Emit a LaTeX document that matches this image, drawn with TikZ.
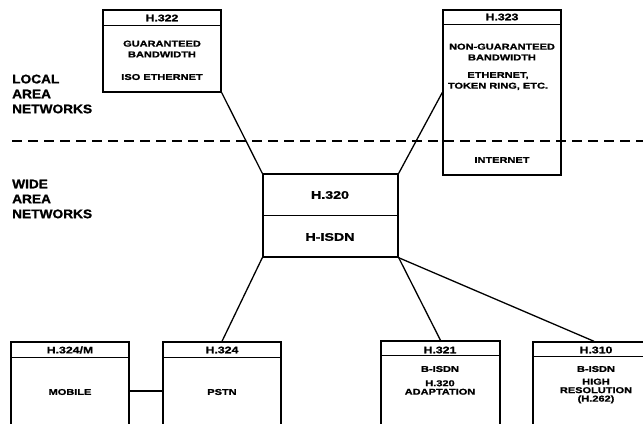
\documentclass[tikz,border=0pt]{standalone}
\usepackage{fontspec}
\newfontfamily\labfont{Liberation Sans}[FakeStretch=1.1, BoldFeatures={FakeBold=1.2}]
\newfontfamily\boxfont{Liberation Sans}[FakeStretch=1.3, BoldFeatures={FakeBold=1.3}]
\begin{document}
\begin{tikzpicture}[x=1bp, y=-1bp,
		box/.style={draw, line width=1.4bp, minimum width=118bp, inner sep=0pt},
		wire/.style={line width=1.3bp},
		txt/.style={font=\boxfont\bfseries\fontsize{8.5}{10.8}\selectfont, align=center, inner sep=0pt},
		tight/.style={font=\boxfont\bfseries\fontsize{8.5}{8.5}\selectfont, align=center, inner sep=0pt},
		hdr/.style={font=\boxfont\bfseries\fontsize{9.5}{9.5}\selectfont, inner sep=0pt},
		big/.style={font=\boxfont\bfseries\fontsize{11}{11}\selectfont, inner sep=0pt},
		side/.style={font=\labfont\bfseries\fontsize{12.5}{15}\selectfont, align=left, anchor=west, inner sep=0pt}]
			\useasboundingbox (0, 0) rectangle (643, 423);
			\clip (0, 0) rectangle (643, 423);
			
			\coordinate (lanl) at (12, 141);
			\coordinate (lanr) at (643, 141);
			\draw [wire, dash pattern=on 10bp off 6bp] (lanl) -- (lanr);
			
			\node[side] (lan) at (12, 94) {LOCAL\\AREA\\NETWORKS};
			\node[side] (wan) at (12, 199) {WIDE\\AREA\\NETWORKS};
			
			\node[box, minimum height=82bp] (h322) at (162, 51) {};
			\node[box, minimum height=165bp] (h323) at (502, 92.5) {};
			\node[box, minimum width=135bp, minimum height=83bp] (h320) at (330.5, 215.5) {};
			
			\node[box, minimum height=98bp] (h324m) at (70, 391) {};
			\node[box, minimum height=98bp] (h324) at (222, 391) {};
			\node[box, minimum width=119bp, minimum height=98bp] (h321) at (440.5, 390) {};
			\node[box, minimum width=122bp, minimum height=98bp] (h310) at (594, 391) {};
			
			\draw [wire] ([yshift=-16bp]h322.north west) -- ([yshift=-16bp]h322.north east);
			\draw [wire] ([yshift=-15bp]h323.north west) -- ([yshift=-15bp]h323.north east);
			\draw [wire] (h320.west) -- (h320.east);
			\draw [wire] ([yshift=-16bp]h324m.north west) -- ([yshift=-16bp]h324m.north east);
			\draw [wire] ([yshift=-16bp]h324.north west) -- ([yshift=-16bp]h324.north east);
			\draw [wire] ([yshift=-15bp]h321.north west) -- ([yshift=-15bp]h321.north east);
			\draw [wire] ([yshift=-15bp]h310.north west) -- ([yshift=-15bp]h310.north east);
			
			\draw [wire] (h322.south east) -- (h320.north west);
			\draw [wire] (h323.west) -- (h320.north east);
			\draw [wire] (h320.south west) -- (h324.north);
			\draw [wire] (h320.south east) -- (h321.north);
			\draw [wire] (h320.south east) -- (h310.north);
			\draw [wire] (h324m.east) -- (h324.west);
			
			\node[hdr] (t322) at (162, 18) {H.322};
			\node[txt] (g322) at (162, 49) {GUARANTEED\\BANDWIDTH};
			\node[txt] (e322) at (162, 77) {ISO ETHERNET};
			
			\node[hdr] (t323) at (502, 17) {H.323};
			\node[txt] (g323) at (502, 52) {NON-GUARANTEED\\BANDWIDTH};
			\node[txt] (e323) at (498, 81) {ETHERNET,\\TOKEN RING, ETC.};
			\node[txt] (i323) at (502, 160) {INTERNET};
			
			\node[big] (t320) at (330, 195) {H.320};
			\node[big] (i320) at (330, 237) {H-ISDN};
			
			\node[hdr] (t324m) at (70, 350) {H.324/M};
			\node[txt] (m324m) at (70, 392) {MOBILE};
			\node[hdr] (t324) at (222, 350) {H.324};
			\node[txt] (p324) at (222, 392) {PSTN};
			
			\node[hdr] (t321) at (440, 350) {H.321};
			\node[txt] (b321) at (440, 369) {B-ISDN};
			\node[tight] (a321) at (440, 387.5) {H.320\\ADAPTATION};
			
			\node[hdr] (t310) at (596, 350) {H.310};
			\node[txt] (b310) at (596, 369) {B-ISDN};
			\node[tight] (r310) at (596, 391) {HIGH\\RESOLUTION\\(H.262)};
		\end{tikzpicture}
\end{document}
